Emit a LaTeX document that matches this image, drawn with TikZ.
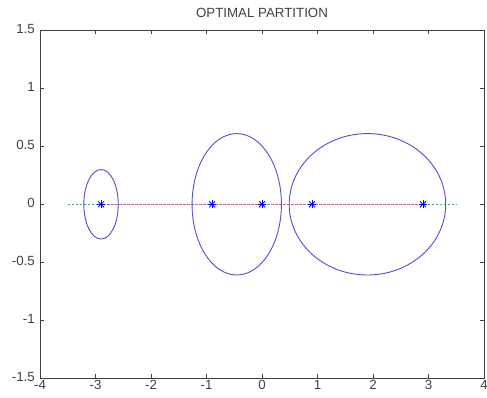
\documentclass[tikz,border=0pt]{standalone}
\usepackage{fontspec}
\setmainfont{Liberation Sans}
\begin{document}
\begin{tikzpicture}[x=55.5pt,y=115.9pt,
  axisline/.style={draw=black!75,line width=0.8pt},
  tick/.style={draw=black!75,line width=0.6pt},
  ticklbl/.style={font=\fontsize{13.3}{15}\selectfont,text=black!75,inner sep=0pt},
  ell/.style={draw={rgb,255:red,80;green,80;blue,200},line width=0.9pt},
  grn/.style={draw={rgb,255:red,90;green,170;blue,120},line width=0.8pt,dash pattern=on 2pt off 2pt},
  redd/.style={draw={rgb,255:red,200;green,90;blue,140},line width=0.8pt,dash pattern=on 2pt off 2pt,dash phase=2pt},
  starline/.style={draw=blue,line width=0.8pt}]
\useasboundingbox (-262pt,-193.7pt) rectangle (225pt,204.3pt);
% dashed lines
\coordinate (gL) at (-3.5,0);
\coordinate (gR) at (3.5,0);
\coordinate (rL) at (-2.9,0);
\coordinate (rR) at (2.9,0);
\draw[grn] (gL) -- (gR);
\draw[redd] (rL) -- (rR);
% ellipses
\draw[ell] (-2.9,0) ellipse [x radius=0.31,y radius=0.30];
\draw[ell] (-0.455,0) ellipse [x radius=0.805,y radius=0.61];
\draw[ell] (1.9,0) ellipse [x radius=1.41,y radius=0.61];
% stars
\foreach \p/\n in {-2.9/s1,-0.9/s2,0/s3,0.9/s4,2.9/s5}{
  \coordinate (\n) at (\p,0);
  \draw[starline] ([shift={(-4pt,0)}]\n) -- ([shift={(4pt,0)}]\n);
  \draw[starline] ([shift={(0,-4pt)}]\n) -- ([shift={(0,4pt)}]\n);
  \draw[starline] ([shift={(-3pt,-3pt)}]\n) -- ([shift={(3pt,3pt)}]\n);
  \draw[starline] ([shift={(-3pt,3pt)}]\n) -- ([shift={(3pt,-3pt)}]\n);
}
% axes box
\draw[axisline] (-4,-1.5) rectangle (4,1.5);
\foreach \x in {-4,-3,...,4}{
  \draw[tick] (\x,-1.5) -- ++(0,4pt);
  \draw[tick] (\x,1.5) -- ++(0,-4pt);
  \node[ticklbl,anchor=north] at ([yshift=-1.5pt]\x,-1.5) {\x};
}
\foreach \y in {-1.5,-1,-0.5,0,0.5,1,1.5}{
  \draw[tick] (-4,\y) -- ++(4pt,0);
  \draw[tick] (4,\y) -- ++(-4pt,0);
  \node[ticklbl,anchor=east] at ([xshift=-5pt,yshift=1pt]-4,\y) {\y};
}
\node[ticklbl] (title) at (0,1.5) [yshift=18pt] {OPTIMAL PARTITION};
\end{tikzpicture}
\end{document}
